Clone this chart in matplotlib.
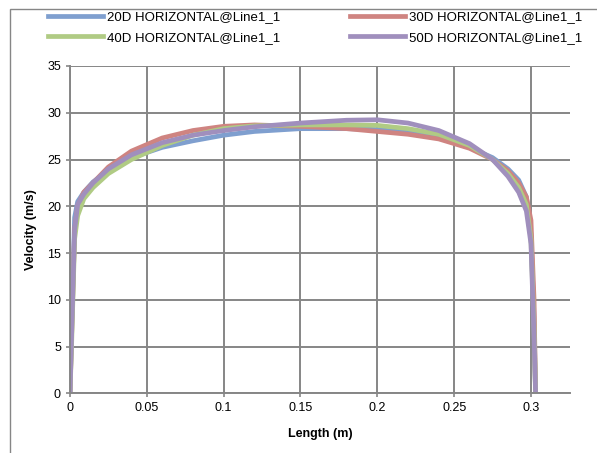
import matplotlib
matplotlib.use("Agg")
import matplotlib.pyplot as plt
from matplotlib.patches import Rectangle

plt.rcParams['font.family'] = ['Liberation Sans', 'DejaVu Sans']

# length along the line (m)
length = [0, 0.001, 0.003, 0.005, 0.009, 0.015, 0.025, 0.04, 0.06, 0.08, 0.1, 0.12,
          0.15, 0.18, 0.2, 0.22, 0.24, 0.26, 0.275, 0.285, 0.292, 0.297, 0.3, 0.302, 0.303]

v20 = [0, 7, 18.8, 20.5, 21.5, 22.6, 23.8, 25.2, 26.3, 27.0, 27.6, 28.0,
       28.3, 28.3, 28.2, 27.9, 27.3, 26.3, 25.2, 24.0, 22.8, 21.0, 17.0, 8, 0]
v30 = [0, 6, 17.5, 20.0, 21.5, 22.5, 24.2, 25.9, 27.3, 28.1, 28.55, 28.7,
       28.55, 28.3, 28.0, 27.7, 27.2, 26.2, 25.0, 23.8, 22.5, 21.0, 18.5, 10, 0]
v40 = [0, 5, 16.5, 19.0, 20.8, 22.0, 23.5, 25.0, 26.5, 27.6, 28.3, 28.6,
       28.7, 28.7, 28.65, 28.3, 27.7, 26.5, 25.0, 23.5, 22.0, 20.2, 16.5, 7, 0]
v50 = [0, 6, 17.5, 20.2, 21.3, 22.5, 24.0, 25.5, 26.8, 27.6, 28.1, 28.5,
       28.9, 29.2, 29.25, 28.9, 28.1, 26.7, 25.0, 23.2, 21.5, 19.5, 16.0, 6, 0]

names = ['20D HORIZONTAL@Line1_1', '30D HORIZONTAL@Line1_1',
         '40D HORIZONTAL@Line1_1', '50D HORIZONTAL@Line1_1']
colors = ['#7f9fcf', '#cf8481', '#b0cb84', '#a08fbd']

fig = plt.figure(figsize=(5.97, 4.53), dpi=100)
ax = fig.add_axes([70/597, 1 - 393.3/453, 500/597, 327.3/453])

for v, name, c in zip([v20, v30, v40, v50], names, colors):
    ax.plot(length, v, color=c, linewidth=3.4, label=name, solid_joinstyle='round')

ax.set_xlim(0, 0.3254)
ax.set_ylim(0, 35)
ax.set_xticks([0, 0.05, 0.1, 0.15, 0.2, 0.25, 0.3])
ax.set_xticklabels(['0', '0.05', '0.1', '0.15', '0.2', '0.25', '0.3'])
ax.set_yticks(range(0, 36, 5))
ax.grid(True, color='#868686', linewidth=1.4)
ax.set_axisbelow(True)
for s in ['top', 'right']:
    ax.spines[s].set_visible(False)
for s in ['left', 'bottom']:
    ax.spines[s].set_color('#868686')
    ax.spines[s].set_linewidth(1.4)
ax.tick_params(colors='#868686', labelcolor='black', labelsize=9, length=3, width=1.2)

ax.set_xlabel('Length (m)', fontsize=9, fontweight='bold', labelpad=10)
ax.set_ylabel('Velocity (m/s)', fontsize=9, fontweight='bold', labelpad=7)

# chart frame, cut off at the right and bottom like the original
fig.patches.append(Rectangle((10/597, -0.5), 2, 1.5 - 9/453, transform=fig.transFigure,
                             fill=False, edgecolor='#868686', linewidth=1.0))

handles, labels = ax.get_legend_handles_labels()
order = [0, 2, 1, 3]
fig.legend([handles[i] for i in order], [labels[i] for i in order], ncol=2,
           loc='upper left', bbox_to_anchor=(48/597, 1 - 11/453), frameon=False,
           fontsize=9.5, handlelength=4.2, handletextpad=0.25, columnspacing=5.3,
           labelspacing=0.62, borderpad=0, borderaxespad=0)

fig.savefig('out.png', dpi=100)
